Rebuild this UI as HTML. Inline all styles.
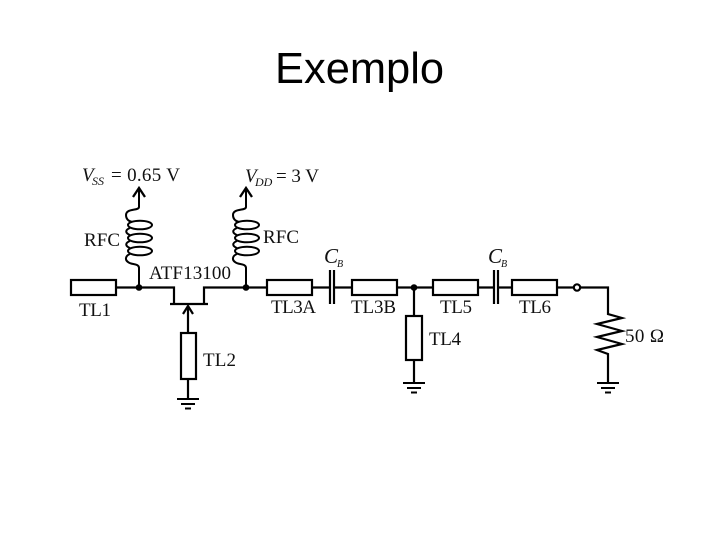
<!DOCTYPE html>
<html><head><meta charset="utf-8"><style>
html,body{margin:0;padding:0;background:#fff}
svg{display:block}
.t{font-family:"Liberation Serif",serif;font-size:19px;fill:#111}
.i{font-style:italic}
.s{font-size:12px;font-style:italic}
</style></head><body>
<svg width="720" height="540" viewBox="0 0 720 540" xmlns="http://www.w3.org/2000/svg">
<rect width="720" height="540" fill="#fff"/>
<text x="275" y="83" font-family="Liberation Sans, sans-serif" font-size="44" fill="#000" textLength="169" lengthAdjust="spacingAndGlyphs">Exemplo</text>
<defs>
<g id="ind" fill="none" stroke="#000" stroke-width="2">
<path d="M139 190V207C139 211 126 208 126 215C126 219 128 221 132 222"/>
<ellipse cx="140" cy="225" rx="12" ry="4.300"/>
<ellipse cx="140" cy="238" rx="12" ry="4.300"/>
<ellipse cx="140" cy="251" rx="12" ry="4.300"/>
<path d="M130 228C125 230 125 233 130 235M130 241C125 243 125 246 130 248M130 254C125 256 125 260 128 262C131 265 139 263 139 268V287"/>
<path d="M133 197L139 188L145 197" stroke-width="2.300"/>
</g>
<g id="gnd" stroke="#000" stroke-width="2"><path d="M0 0H22M4 5H18M8 9.500H14"/></g>
</defs>
<use href="#ind"/>
<use href="#ind" x="107"/>
<g fill="none" stroke="#000" stroke-width="2.200">
<rect x="71" y="280" width="45" height="15"/>
<path d="M116 287.500H174V304M170 304H208M204 304V287.500H267"/>
<path d="M188 306V333"/>
<path d="M183 314L188 306L193 314"/>
<rect x="181" y="333" width="15" height="46"/>
<path d="M188 379V398"/>
<rect x="267" y="280" width="45" height="15"/>
<path d="M312 287.500H330M334 287.500H352"/>
<path d="M330 270V304M334 270V304"/>
<rect x="352" y="280" width="45" height="15"/>
<path d="M397 287.500H433M414 287.500V316"/>
<rect x="406" y="316" width="16" height="44"/>
<path d="M414 360V383"/>
<rect x="433" y="280" width="45" height="15"/>
<path d="M478 287.500H494M498 287.500H512"/>
<path d="M494 270V304M498 270V304"/>
<rect x="512" y="280" width="45" height="15"/>
<path d="M557 287.500H574M580 287.500H608V314L622 318L597 324L622 331L597 337L622 344L597 350L608 354V383"/>
<circle cx="577" cy="287.500" r="3.200"/>
</g>
<circle cx="139" cy="287.500" r="3.300"/>
<circle cx="246" cy="287.500" r="3.300"/>
<circle cx="414" cy="287.500" r="3.300"/>
<use href="#gnd" x="177" y="399"/>
<use href="#gnd" x="403" y="383"/>
<use href="#gnd" x="597" y="383"/>
<text class="t i" x="82" y="181">V</text><text class="t s" x="92" y="185">SS</text><text class="t" x="111" y="181" textLength="69">= 0.65 V</text>
<text class="t i" x="245" y="182">V</text><text class="t s" x="255" y="186">DD</text><text class="t" x="276" y="182" textLength="43">= 3 V</text>
<text class="t" x="84" y="246" textLength="36">RFC</text>
<text class="t" x="263" y="243" textLength="36">RFC</text>
<text class="t" x="149" y="279" textLength="82">ATF13100</text>
<text class="t" x="79" y="316" textLength="32">TL1</text>
<text class="t" x="203" y="366" textLength="33">TL2</text>
<text class="t" x="271" y="313" textLength="45">TL3A</text>
<text class="t" x="351" y="313" textLength="45">TL3B</text>
<text class="t" x="429" y="345" textLength="32">TL4</text>
<text class="t" x="440" y="313" textLength="32">TL5</text>
<text class="t" x="519" y="313" textLength="32">TL6</text>
<text class="t" x="625" y="342" textLength="39">50 Ω</text>
<text class="t i" x="324" y="263" style="font-size:21px">C</text><text class="t s" x="337" y="267" style="font-size:10px">B</text>
<text class="t i" x="488" y="263" style="font-size:21px">C</text><text class="t s" x="501" y="267" style="font-size:10px">B</text>
</svg>
</body></html>
